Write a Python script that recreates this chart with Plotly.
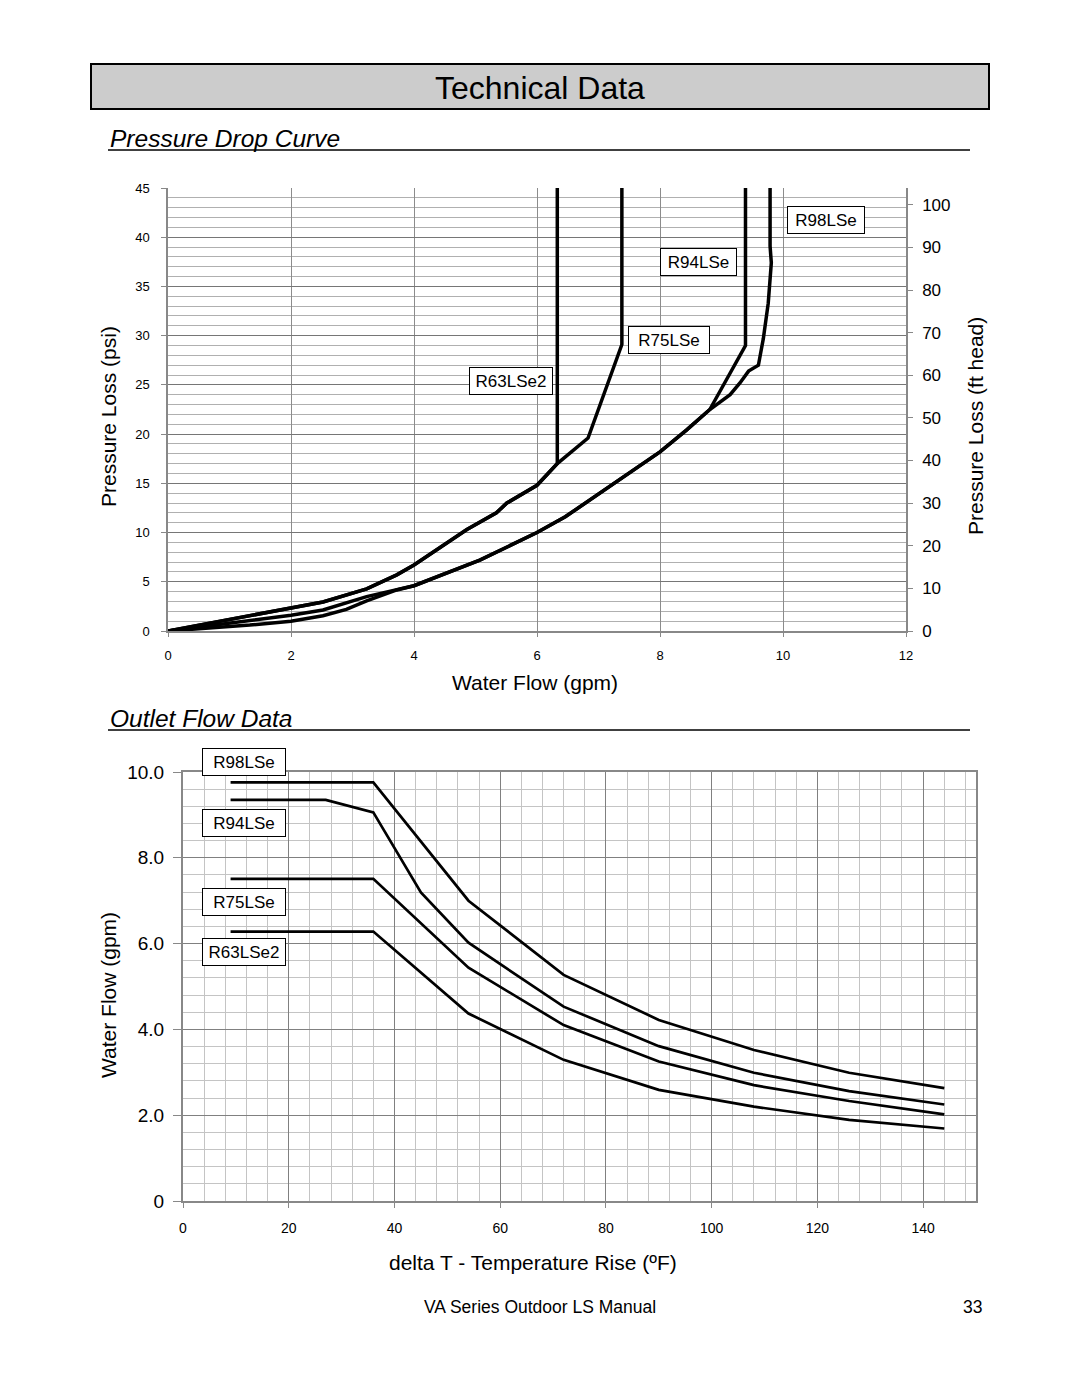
import plotly.graph_objects as go

W, H = 1080, 1399

# ---------------- Pressure Drop Curve data (gpm, psi) ----------------
r63_gpm = [0, 2.52, 3.23, 3.72, 4.0, 4.86, 5.34, 5.51, 6.0, 6.33, 6.33]
r63_psi = [0, 2.95, 4.27, 5.7, 6.7, 10.3, 12.0, 13.0, 14.8, 17.0, 45]

r75_gpm = [0, 2.52, 3.23, 3.72, 4.0, 4.86, 5.34, 5.51, 6.0, 6.33, 6.83, 7.38, 7.38]
r75_psi = [0, 2.95, 4.27, 5.7, 6.7, 10.3, 12.0, 13.0, 14.8, 17.0, 19.6, 29.1, 45]

r94_gpm = [0, 2.0, 2.52, 3.23, 3.72, 4.0, 5.07, 6.0, 6.46, 8.0, 8.43, 8.81, 9.39, 9.39]
r94_psi = [0, 1.6, 2.13, 3.49, 4.2, 4.6, 7.2, 10.0, 11.6, 18.2, 20.4, 22.5, 29.0, 45]

r98_gpm = [0, 1.33, 2.0, 2.52, 2.9, 3.23, 3.72, 4.0, 5.07, 6.0, 6.46, 8.0, 8.43, 8.81,
           9.14, 9.3, 9.44, 9.6, 9.68, 9.76, 9.81, 9.79, 9.79]
r98_psi = [0, 0.6, 1.0, 1.55, 2.2, 3.05, 4.17, 4.6, 7.2, 10.0, 11.6, 18.2, 20.4, 22.5,
           24.0, 25.2, 26.4, 27.0, 29.7, 33.3, 37.4, 39.1, 45]

psi_ticks = [0, 5, 10, 15, 20, 25, 30, 35, 40, 45]
ft_ticks = [0, 10, 20, 30, 40, 50, 60, 70, 80, 90, 100]
gpm_ticks = [0, 2, 4, 6, 8, 10, 12]

# ---------------- Outlet Flow Data (deg F rise, gpm) ----------------
of_r98_dt = [9, 36, 54, 72, 90, 108, 126, 144]
of_r98_gpm = [9.76, 9.76, 7.0, 5.27, 4.22, 3.52, 2.99, 2.63]
of_r94_dt = [9, 27, 36, 45, 54, 72, 90, 108, 126, 144]
of_r94_gpm = [9.35, 9.35, 9.06, 7.19, 6.02, 4.53, 3.61, 2.99, 2.56, 2.25]
of_r75_dt = [9, 36, 54, 72, 90, 108, 126, 144]
of_r75_gpm = [7.51, 7.51, 5.44, 4.10, 3.25, 2.70, 2.33, 2.02]
of_r63_dt = [9, 36, 54, 72, 90, 108, 126, 144]
of_r63_gpm = [6.28, 6.28, 4.37, 3.29, 2.59, 2.20, 1.89, 1.69]

dt_ticks = [0, 20, 40, 60, 80, 100, 120, 140]
flow_ticks = [0, 2, 4, 6, 8, 10]
flow_labels = ["0", "2.0", "4.0", "6.0", "8.0", "10.0"]

FONT = "Liberation Sans, Arial, sans-serif"

# the page body adds an 8px margin; compensate so page positions match
OX, OY = 8, 8


def px(x):
    return (x - OX) / W


def py(y):
    return 1 - (y - OY) / H


fig = go.Figure()
line1 = dict(color="black", width=3.5)
for xs, ys, nm in [(r63_gpm, r63_psi, "R63LSe2"), (r75_gpm, r75_psi, "R75LSe"),
                   (r94_gpm, r94_psi, "R94LSe"), (r98_gpm, r98_psi, "R98LSe")]:
    fig.add_trace(go.Scatter(x=xs, y=ys, mode="lines", line=line1, name=nm,
                             xaxis="x", yaxis="y", showlegend=False))
# invisible trace so the right-hand (ft head) axis is drawn
fig.add_trace(go.Scatter(x=[0], y=[0], mode="markers", marker=dict(opacity=0),
                         xaxis="x", yaxis="y2", showlegend=False, hoverinfo="skip"))

line2 = dict(color="black", width=2.7)
for xs, ys, nm in [(of_r98_dt, of_r98_gpm, "R98LSe"), (of_r94_dt, of_r94_gpm, "R94LSe"),
                   (of_r75_dt, of_r75_gpm, "R75LSe"), (of_r63_dt, of_r63_gpm, "R63LSe2")]:
    fig.add_trace(go.Scatter(x=xs, y=ys, mode="lines", line=line2, name=nm,
                             xaxis="x3", yaxis="y3", showlegend=False))

axcol = "#888888"
fig.update_layout(
    width=W, height=H, margin=dict(l=0, r=0, t=0, b=0, pad=0, autoexpand=False),
    paper_bgcolor="white", plot_bgcolor="white",
    font=dict(family=FONT, color="black"),
    xaxis=dict(domain=[px(168), px(906)], range=[0, 12], tickvals=gpm_ticks,
               showgrid=True, gridcolor="#8c8c8c", gridwidth=1,
               showline=True, linecolor=axcol, linewidth=1.5,
               ticks="outside", ticklen=4, tickcolor=axcol, ticklabelstandoff=8,
               tickfont=dict(size=13), zeroline=False, anchor="y", automargin=False),
    yaxis=dict(domain=[py(631), py(188)], range=[0, 45], tickvals=psi_ticks,
               showgrid=True, gridcolor="#767676", gridwidth=1,
               minor=dict(dtick=1, tick0=0, showgrid=True, gridcolor="#b0b0b0", gridwidth=1),
               showline=True, linecolor=axcol, linewidth=1.5,
               ticks="outside", ticklen=5, tickcolor=axcol, ticklabelstandoff=9,
               tickfont=dict(size=13), zeroline=False, anchor="x", automargin=False),
    yaxis2=dict(overlaying="y", side="right", range=[0, 45 * 2.31], tickvals=ft_ticks,
                showgrid=False, showline=True, linecolor=axcol, linewidth=1.5,
                ticks="outside", ticklen=5, tickcolor=axcol, ticklabelstandoff=6,
                tickfont=dict(size=17), zeroline=False, anchor="x", automargin=False),
    xaxis3=dict(domain=[px(183), px(976)], range=[0, 150], tickvals=dt_ticks,
                showgrid=True, gridcolor="#808080", gridwidth=1,
                minor=dict(dtick=4, tick0=0, showgrid=True, gridcolor="#c4c4c4", gridwidth=1),
                showline=True, mirror=True, linecolor=axcol, linewidth=1.5,
                ticks="outside", ticklen=5, tickcolor=axcol, ticklabelstandoff=8,
                tickfont=dict(size=14), zeroline=False, anchor="y3", automargin=False),
    yaxis3=dict(domain=[py(1201), py(772)], range=[0, 10], tickvals=flow_ticks,
                ticktext=flow_labels,
                showgrid=True, gridcolor="#808080", gridwidth=1,
                minor=dict(dtick=0.4, tick0=0, showgrid=True, gridcolor="#c4c4c4", gridwidth=1),
                showline=True, mirror=True, linecolor=axcol, linewidth=2,
                ticks="outside", ticklen=8, tickcolor=axcol, ticklabelstandoff=5,
                tickfont=dict(size=19), zeroline=False, anchor="x3", automargin=False),
)

shapes = [
    dict(type="rect", xref="paper", yref="paper", x0=px(91), x1=px(989), y0=py(109), y1=py(64),
         fillcolor="#cccccc", line=dict(color="black", width=2), layer="below"),
    dict(type="line", xref="paper", yref="paper", x0=px(108), x1=px(970), y0=py(150), y1=py(150),
         line=dict(color="black", width=1.5)),
    dict(type="line", xref="paper", yref="paper", x0=px(108), x1=px(970), y0=py(730), y1=py(730),
         line=dict(color="black", width=1.5)),
]
fig.update_layout(shapes=shapes)

ann = []


def txt(x, y, s, size, **kw):
    d = dict(xref="paper", yref="paper", x=px(x), y=py(y), text=s, showarrow=False,
             font=dict(size=size, family=FONT, color="black"), xanchor="center", yanchor="middle")
    d.update(kw)
    ann.append(d)


txt(540, 88, "Technical Data", 32)
txt(108, 138, "<i>Pressure Drop Curve</i>", 24.5, xanchor="left")
txt(108, 718, "<i>Outlet Flow Data</i>", 24.5, xanchor="left")
txt(108, 417, "Pressure Loss (psi)", 21, textangle=-90)
txt(975, 426, "Pressure Loss (ft head)", 21, textangle=-90)
txt(535, 682, "Water Flow (gpm)", 21)
txt(108, 995, "Water Flow (gpm)", 21, textangle=-90)
txt(533, 1262, "delta T - Temperature Rise (ºF)", 21)
txt(540, 1307, "VA Series Outdoor LS Manual", 17.5)
txt(972, 1307, "33", 17.5)

box = dict(showarrow=False, bgcolor="white", bordercolor="black", borderwidth=1, borderpad=4,
           height=18, font=dict(size=17, family=FONT, color="black"),
           xanchor="center", yanchor="middle")
for x, y, s, w in [(5.58, 25.4, "R63LSe2", 74), (8.15, 29.6, "R75LSe", 72),
                   (8.62, 37.5, "R94LSe", 67), (10.7, 41.7, "R98LSe", 68)]:
    a = dict(box); a.update(xref="x", yref="y", x=x, y=y, text=s, width=w); ann.append(a)
for x, y, s in [(244, 762, "R98LSe"), (244, 823, "R94LSe"), (244, 902, "R75LSe"),
                (244, 952, "R63LSe2")]:
    a = dict(box); a.update(xref="paper", yref="paper", x=px(x), y=py(y), text=s, width=74)
    ann.append(a)

fig.update_layout(annotations=ann)
fig.write_html("out.html")
